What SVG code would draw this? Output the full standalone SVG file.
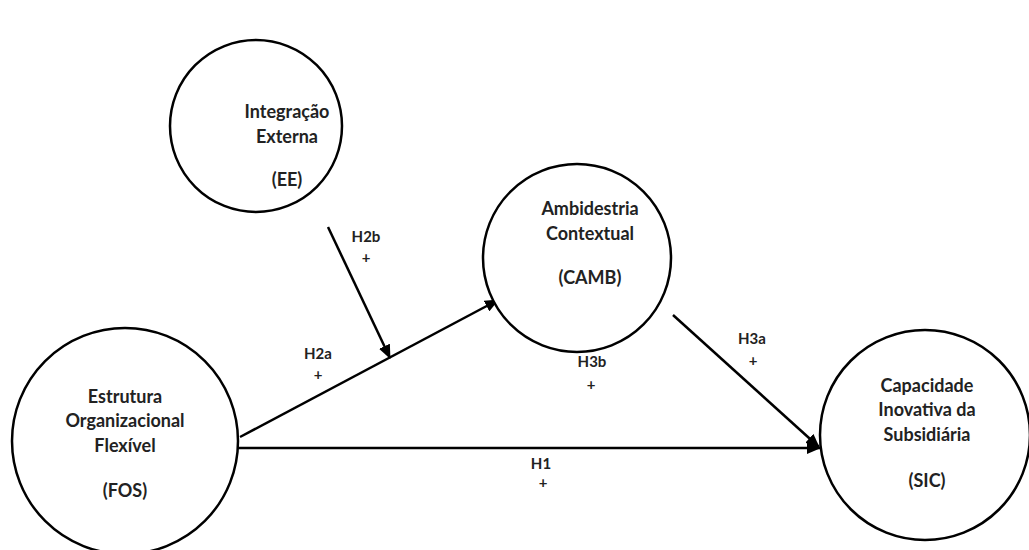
<svg xmlns="http://www.w3.org/2000/svg" width="1029" height="550" viewBox="0 0 1029 550">
  <defs>
    <marker id="arrow" markerUnits="userSpaceOnUse" markerWidth="14" markerHeight="12" refX="13" refY="6" orient="auto">
      <path d="M0,0 L14,6 L0,12 Z" fill="#000"/>
    </marker>
    <style>
      .node circle { fill: #fff; stroke: #000; stroke-width: 2.5; }
      .node text { font-family: Lato, "Liberation Sans", sans-serif; font-size: 18px; fill: #222; text-anchor: middle; font-weight: 700; }
      .conn line { stroke: #000; stroke-width: 2.5; fill: none; }
      .lbl { font-family: Lato, "Liberation Sans", sans-serif; font-size: 15px; fill: #222; text-anchor: middle; font-weight: 700; }
    </style>
  </defs>
  <rect width="1029" height="550" fill="#fff"/>

  <g class="conn" id="connectors">
    <line x1="328" y1="227" x2="390" y2="358" marker-end="url(#arrow)"/>
    <line x1="240" y1="437" x2="498" y2="300" marker-end="url(#arrow)"/>
    <line x1="673" y1="315" x2="819" y2="447" marker-end="url(#arrow)"/>
    <line x1="238" y1="448" x2="820" y2="448" marker-end="url(#arrow)"/>
  </g>

  <g id="EE" class="node">
    <circle cx="256" cy="126" r="86"/>
    <text x="287" y="118">Integração</text>
    <text x="287" y="143">Externa</text>
    <text x="287" y="186">(EE)</text>
  </g>

  <g id="CAMB" class="node">
    <circle cx="577" cy="258" r="94"/>
    <text x="590" y="215">Ambidestria</text>
    <text x="590" y="240">Contextual</text>
    <text x="590" y="284">(CAMB)</text>
  </g>

  <g id="FOS" class="node">
    <circle cx="125" cy="441" r="113"/>
    <text x="125" y="403">Estrutura</text>
    <text x="125" y="427">Organizacional</text>
    <text x="125" y="452">Flexível</text>
    <text x="125" y="497">(FOS)</text>
  </g>

  <g id="SIC" class="node">
    <circle cx="925" cy="435" r="105"/>
    <text x="927" y="392">Capacidade</text>
    <text x="927" y="416">Inovativa da</text>
    <text x="927" y="441">Subsidiária</text>
    <text x="927" y="487">(SIC)</text>
  </g>

  <g id="labels">
    <text class="lbl" x="366" y="242">H2b</text>
    <text class="lbl" x="366" y="263">+</text>
    <text class="lbl" x="318" y="359">H2a</text>
    <text class="lbl" x="318" y="380">+</text>
    <text class="lbl" x="592" y="367">H3b</text>
    <text class="lbl" x="591" y="390">+</text>
    <text class="lbl" x="752" y="344">H3a</text>
    <text class="lbl" x="753" y="366">+</text>
    <text class="lbl" x="541" y="469">H1</text>
    <text class="lbl" x="543" y="488">+</text>
  </g>
</svg>
